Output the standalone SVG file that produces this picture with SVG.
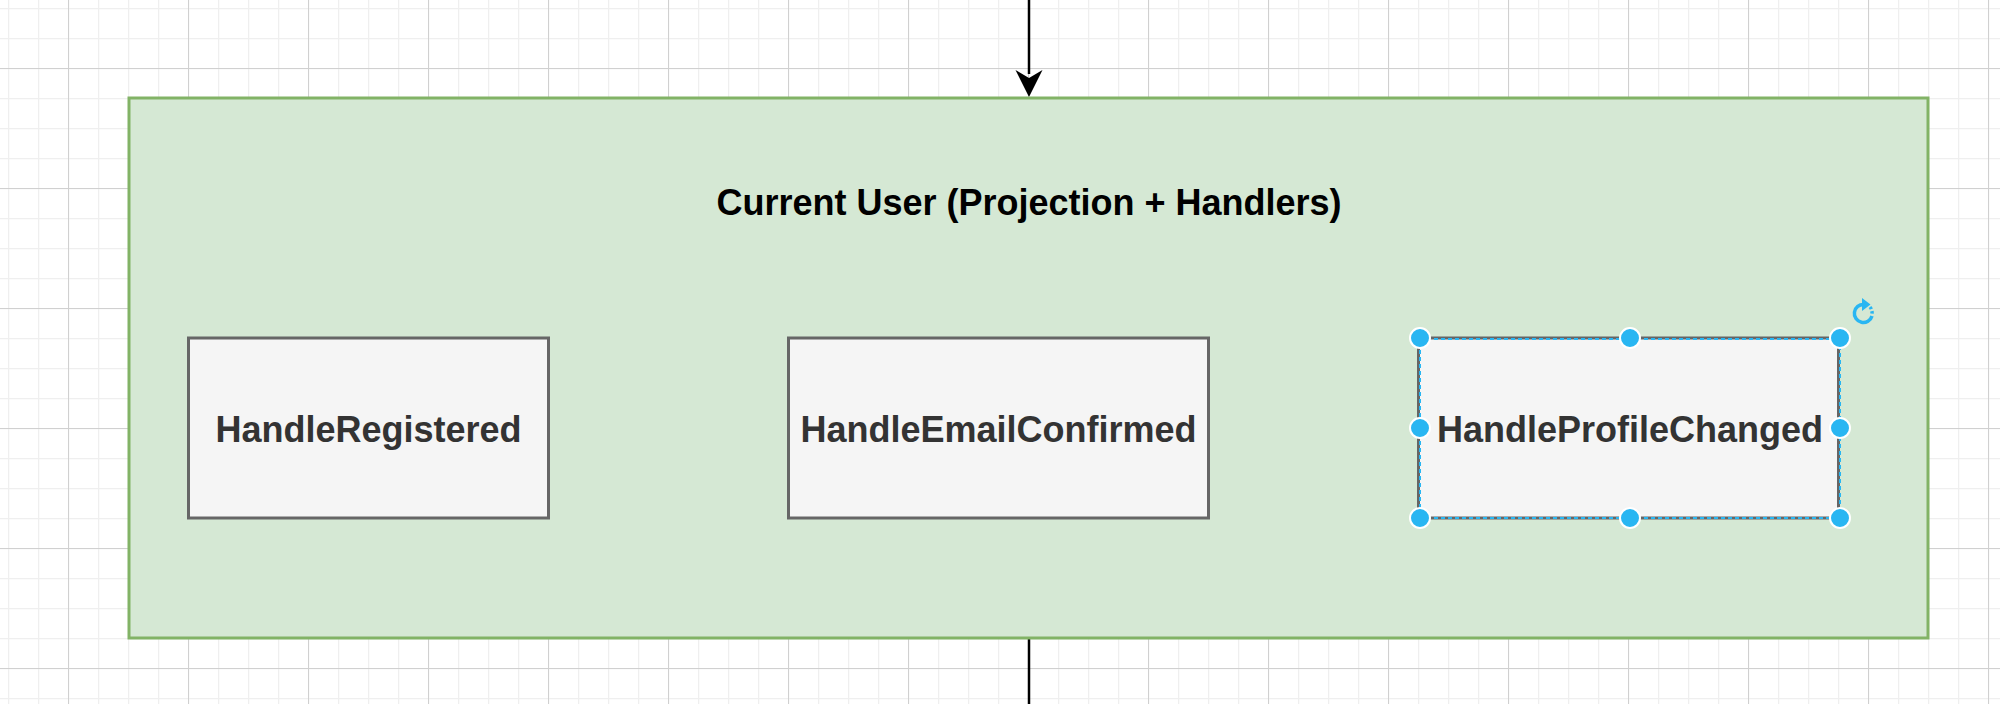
<svg xmlns="http://www.w3.org/2000/svg" width="2000" height="704" viewBox="0 0 2000 704">
<defs>
<pattern id="minor" x="8" y="8" width="30" height="30" patternUnits="userSpaceOnUse">
<path d="M0.5 0 V30 M0 0.5 H30" stroke="#efefef" stroke-width="1.5" fill="none"/>
</pattern>
<pattern id="major" x="68" y="68" width="120" height="120" patternUnits="userSpaceOnUse">
<path d="M0.5 0 V120 M0 0.5 H120" stroke="#d0d0d0" stroke-width="1" fill="none"/>
</pattern>
<style>
.box{fill:#f5f5f5;stroke:#666666;stroke-width:3}
.lbl{font-family:"Liberation Sans",Arial,sans-serif;font-weight:bold;font-size:36px;fill:#333333;text-anchor:middle}
.title{font-family:"Liberation Sans",Arial,sans-serif;font-weight:bold;font-size:36px;fill:#000;text-anchor:middle}
.h{fill:#29b6f2;stroke:#fff;stroke-width:2}
</style>
</defs>
<rect width="2000" height="704" fill="#fff"/>
<rect width="2000" height="704" fill="url(#minor)"/>
<rect width="2000" height="704" fill="url(#major)"/>
<g id="connectors">
<line x1="1029" y1="0" x2="1029" y2="74" stroke="#000" stroke-width="2.5"/>
<path d="M1029 97 L1015.5 70 L1029 78 L1042.5 70 Z" fill="#000"/>
<line x1="1029" y1="638" x2="1029" y2="704" stroke="#000" stroke-width="2.5"/>
</g>
<g id="container">
<rect x="129" y="98" width="1799" height="540" fill="#d5e8d4" stroke="#82b366" stroke-width="3"/>
<text class="title" x="1029" y="215">Current User (Projection + Handlers)</text>
</g>
<g id="handleRegistered">
<rect class="box" x="188.5" y="338" width="360" height="180"/>
<text class="lbl" x="368.5" y="442">HandleRegistered</text>
</g>
<g id="handleEmailConfirmed">
<rect class="box" x="788.5" y="338" width="420" height="180"/>
<text class="lbl" x="998.5" y="442">HandleEmailConfirmed</text>
</g>
<g id="handleProfileChanged">
<rect class="box" x="1418.5" y="338" width="420" height="180"/>
<text class="lbl" x="1630" y="442">HandleProfileChanged</text>
</g>
<g id="selection">
<rect x="1420" y="339" width="420" height="179" fill="none" stroke="#29b6f2" stroke-width="2" stroke-dasharray="4 3"/>
<circle class="h" cx="1420" cy="338" r="10"/>
<circle class="h" cx="1630" cy="338" r="10"/>
<circle class="h" cx="1840" cy="338" r="10"/>
<circle class="h" cx="1420" cy="428" r="10"/>
<circle class="h" cx="1840" cy="428" r="10"/>
<circle class="h" cx="1420" cy="518" r="10"/>
<circle class="h" cx="1630" cy="518" r="10"/>
<circle class="h" cx="1840" cy="518" r="10"/>
<path d="M1864 304.5 A9 9 0 1 0 1872 316" fill="none" stroke="#29b6f2" stroke-width="3.5"/>
<path d="M1870 307 A9 9 0 0 1 1872 314" fill="none" stroke="#29b6f2" stroke-width="3.5" stroke-dasharray="2.5 2"/>
<path d="M1862 298 L1870.5 304.5 L1862 311 Z" fill="#29b6f2"/>
</g>
</svg>
